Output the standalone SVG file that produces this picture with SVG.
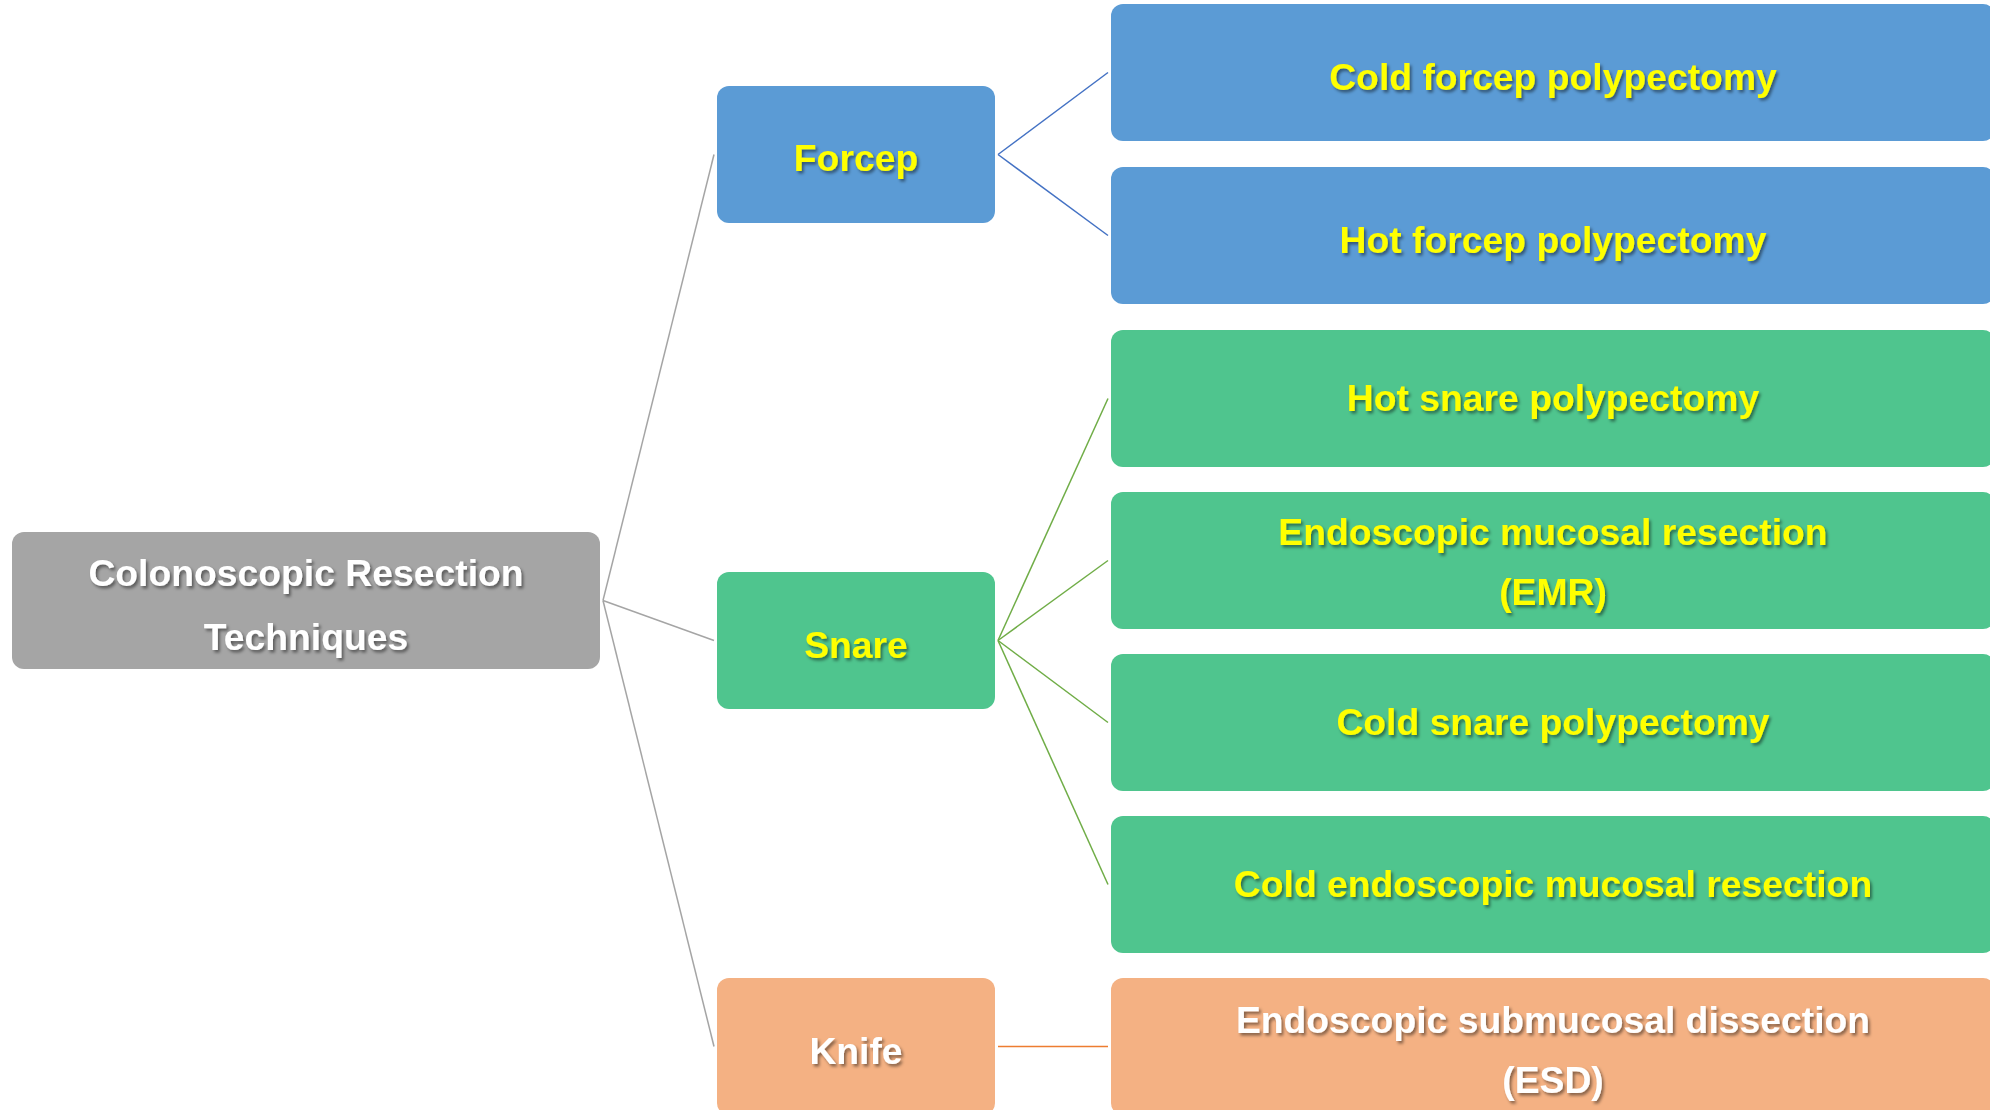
<svg xmlns="http://www.w3.org/2000/svg" width="1990" height="1110" viewBox="0 0 1990 1110">
<defs>
<filter id="ts" x="-10%" y="-30%" width="120%" height="160%">
<feDropShadow dx="2" dy="2.5" stdDeviation="1.5" flood-color="#000" flood-opacity="0.45"/>
</filter>
</defs>
<style>
.box{stroke:none}
.gray{fill:#A5A5A5}
.blue{fill:#5B9BD5}
.green{fill:#4FC58E}
.orange{fill:#F4B183}
text{font-family:"Liberation Sans",Arial,sans-serif;font-weight:bold;font-size:37.3px;text-anchor:middle;filter:url(#ts)}
.y{fill:#FFFF00}
.w{fill:#FFFFFF}
.c{fill:none;stroke-width:1.5}
.cg{stroke:#A5A5A5}
.cb{stroke:#4472C4}
.cgr{stroke:#70AD47}
.co{stroke:#ED7D31}
</style>
<rect width="1990" height="1110" fill="#FFFFFF"/>
<g id="connectors">
<line class="c cg" x1="603" y1="600.5" x2="714" y2="154.5"/>
<line class="c cg" x1="603" y1="600.5" x2="714" y2="640.5"/>
<line class="c cg" x1="603" y1="600.5" x2="714" y2="1046.5"/>
<line class="c cb" x1="998" y1="154.5" x2="1108" y2="72.5"/>
<line class="c cb" x1="998" y1="154.5" x2="1108" y2="235.5"/>
<line class="c cgr" x1="998" y1="640.5" x2="1108" y2="398.5"/>
<line class="c cgr" x1="998" y1="640.5" x2="1108" y2="560.5"/>
<line class="c cgr" x1="998" y1="640.5" x2="1108" y2="722.5"/>
<line class="c cgr" x1="998" y1="640.5" x2="1108" y2="884.5"/>
<line class="c co" x1="998" y1="1046.5" x2="1108" y2="1046.5"/>
</g>
<g id="root">
<rect class="box gray" x="12" y="532" width="588" height="137" rx="12"/>
<text class="w" x="306" y="586">Colonoscopic Resection</text>
<text class="w" x="306" y="650">Techniques</text>
</g>
<g id="forcep">
<rect class="box blue" x="717" y="86" width="278" height="137" rx="12"/>
<text class="y" x="856" y="171">Forcep</text>
</g>
<g id="snare">
<rect class="box green" x="717" y="572" width="278" height="137" rx="12"/>
<text class="y" x="856" y="658">Snare</text>
</g>
<g id="knife">
<rect class="box orange" x="717" y="978" width="278" height="137" rx="12"/>
<text class="w" x="856" y="1064">Knife</text>
</g>
<g id="cold-forcep">
<rect class="box blue" x="1111" y="4" width="884" height="137" rx="12"/>
<text class="y" x="1553" y="90">Cold forcep polypectomy</text>
</g>
<g id="hot-forcep">
<rect class="box blue" x="1111" y="167" width="884" height="137" rx="12"/>
<text class="y" x="1553" y="253">Hot forcep polypectomy</text>
</g>
<g id="hot-snare">
<rect class="box green" x="1111" y="330" width="884" height="137" rx="12"/>
<text class="y" x="1553" y="411">Hot snare polypectomy</text>
</g>
<g id="emr">
<rect class="box green" x="1111" y="492" width="884" height="137" rx="12"/>
<text class="y" x="1553" y="545">Endoscopic mucosal resection</text>
<text class="y" x="1553" y="605">(EMR)</text>
</g>
<g id="cold-snare">
<rect class="box green" x="1111" y="654" width="884" height="137" rx="12"/>
<text class="y" x="1553" y="735">Cold snare polypectomy</text>
</g>
<g id="cold-emr">
<rect class="box green" x="1111" y="816" width="884" height="137" rx="12"/>
<text class="y" x="1553" y="897">Cold endoscopic mucosal resection</text>
</g>
<g id="esd">
<rect class="box orange" x="1111" y="978" width="884" height="137" rx="12"/>
<text class="w" x="1553" y="1033">Endoscopic submucosal dissection</text>
<text class="w" x="1553" y="1093">(ESD)</text>
</g>
</svg>
